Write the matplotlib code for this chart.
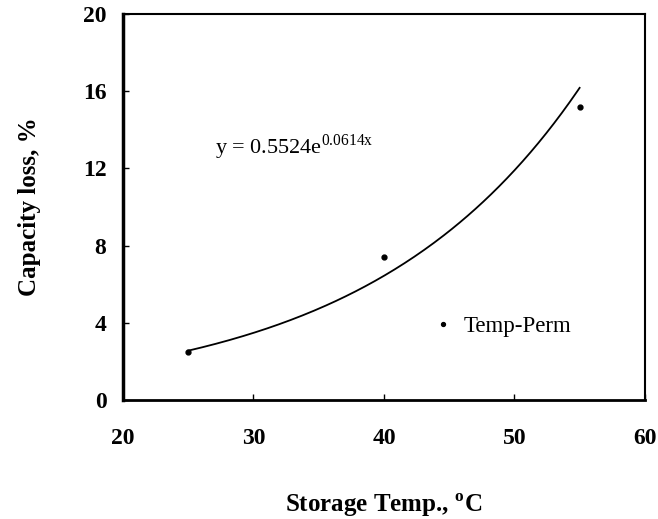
import numpy as np
import matplotlib.pyplot as plt

plt.rcParams['font.family'] = 'Liberation Serif'
plt.rcParams['mathtext.fontset'] = 'custom'
plt.rcParams['mathtext.rm'] = 'Liberation Serif'
plt.rcParams['mathtext.bf'] = 'Liberation Serif:bold'

# measured points
temps = [25, 40, 55]
capLoss = [2.5, 7.4, 15.2]

# exponential fit y = a*exp(b*x)
fitA = 0.5524
fitB = 0.0614

xTicks = [20, 30, 40, 50, 60]
yTicks = [0, 4, 8, 12, 16, 20]

fig = plt.figure(figsize=(6.58, 5.19), dpi=100)
ax = fig.add_axes([0.187, 0.229, 0.793, 0.744])

xFit = np.linspace(temps[0], temps[-1], 200)
yFit = fitA * np.exp(fitB * xFit)
ax.plot(xFit, yFit, color='black', linewidth=1.3)
ax.plot(temps, capLoss, 'o', color='black', markersize=3.5, label='Temp-Perm')

ax.set_xlim(20, 60)
ax.set_ylim(0, 20)
ax.set_xticks(xTicks)
ax.set_yticks(yTicks)
ax.tick_params(direction='in', length=4, width=1, labelsize=17)
ax.tick_params(axis='x', pad=20)
ax.tick_params(axis='y', pad=12)
for lbl in ax.get_xticklabels() + ax.get_yticklabels():
    lbl.set_fontweight('bold')

ax.spines['left'].set_linewidth(2.5)
ax.spines['bottom'].set_linewidth(2.0)
ax.spines['top'].set_linewidth(1.5)
ax.spines['right'].set_linewidth(1.5)

ax.text(0.176, 0.655, 'y = 0.5524e$^{0.0614\\mathrm{x}}$', transform=ax.transAxes,
        fontsize=16, ha='left', va='center')

ax.legend(loc='center left', bbox_to_anchor=(0.547, 0.19), frameon=False,
          fontsize=16.5, handletextpad=0.3, handlelength=1.2, markerscale=0.8)

ax.set_xlabel('Storage Temp., $^{\\mathbf{o}}$C', fontsize=18, fontweight='bold', labelpad=31)
ax.set_ylabel('Capacity loss, %', fontsize=18, fontweight='bold', labelpad=30)

plt.savefig('out.png', dpi=100)
